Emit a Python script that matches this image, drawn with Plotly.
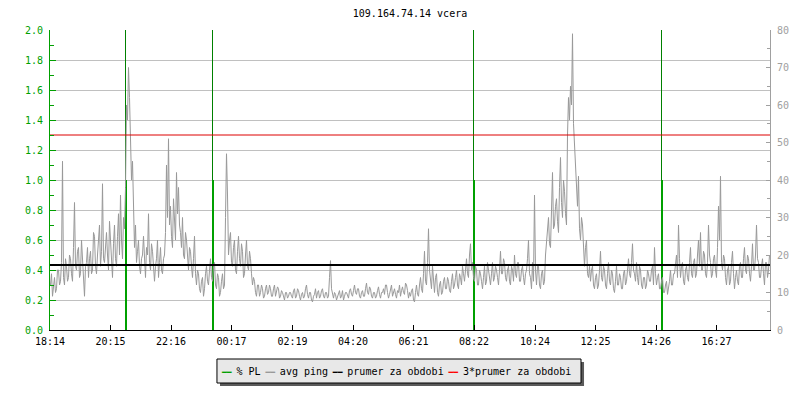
import plotly.graph_objects as go
import numpy as np

# ---------------- data ----------------
title_text = "109.164.74.14 vcera"
start_clock = "18:14"
sample_step_min = 2          # one reading every 2 minutes over 24 h

x_tick_labels = ["18:14", "20:15", "22:16", "00:17", "02:19", "04:20",
                 "06:21", "08:22", "10:24", "12:25", "14:26", "16:27"]

# avg ping [ms] (right axis), 18:14 -> 18:14 next day
avg_ping = [
    # 18:14 - 22:14
    12, 15, 9, 13, 14, 10, 11, 16, 16, 12, 13, 18, 45, 14, 12, 19, 17, 13, 14, 20,
    19, 15, 13, 22, 34, 17, 16, 21, 22, 14, 15, 24, 20, 16, 9, 17, 18, 22, 14, 19,
    21, 15, 16, 26, 25, 17, 15, 20, 23, 28, 17, 21, 39, 19, 18, 24, 26, 20, 16, 29,
    24, 18, 14, 23, 28, 19, 17, 25, 31, 20, 36, 24, 19, 30, 27, 38, 60, 56, 70, 62,
    49, 40, 45, 33, 22, 28, 18, 21, 24, 17, 15, 19, 20, 25, 17, 14, 22, 20, 31, 18,
    16, 23, 21, 15, 13, 17, 19, 24, 14, 18, 22, 16, 15, 19, 20, 26, 44, 30, 51, 28,
    # 22:14 - 02:14
    33, 25, 22, 35, 30, 24, 42, 31, 38, 28, 26, 22, 30, 20, 19, 26, 24, 18, 16, 22,
    21, 17, 14, 19, 25, 15, 12, 16, 15, 11, 10, 13, 14, 9, 11, 15, 17, 13, 12, 16,
    19, 14, 13, 17, 18, 12, 11, 15, 14, 9, 10, 13, 15, 11, 12, 30, 47, 36, 20, 24,
    26, 18, 17, 22, 24, 16, 15, 21, 25, 19, 17, 23, 21, 14, 15, 20, 24, 17, 16, 21,
    19, 15, 12, 14, 13, 10, 9, 12, 12, 9, 10, 12, 11, 8.5, 9, 11, 12, 9.5, 10, 12,
    11, 9, 9, 11, 12, 9, 10, 11.5, 11, 8.5, 9, 10.5, 10, 8.5, 8, 10, 10, 8.5, 9, 10,
    # 02:14 - 06:14
    10, 9, 8.5, 10.5, 11, 8.5, 9, 11, 10.5, 9, 8, 9.5, 10, 8.5, 9, 11, 12, 9.5, 8.5, 10,
    10, 8, 7.5, 9, 9.5, 11, 8.5, 10, 10.5, 8.5, 9, 10.5, 11, 9, 8.5, 10, 10, 8.5, 9, 14,
    18.5, 11, 9, 8.5, 10, 9.5, 8, 9, 9.5, 10.5, 8.5, 9, 10.5, 8, 9, 10, 10, 9, 8.5, 10.5,
    11, 9.5, 9, 10.5, 12, 10, 9.5, 11, 11, 9, 8.5, 10, 10.5, 9, 9, 11, 12.5, 10, 9.5, 11.5,
    11, 9, 8.5, 10, 10, 8.5, 9, 10.5, 11.5, 9.5, 8.5, 10, 10, 11, 9.5, 12, 12, 10, 8.5, 9.5,
    10.5, 12, 9, 10, 11, 9.5, 8.5, 10.5, 10, 12, 9, 10.5, 11.5, 10, 9.5, 12.5, 12, 10.5, 8.5, 10,
    # 06:14 - 10:14
    9, 10.5, 11, 8, 7.5, 10, 12, 9.5, 9, 12, 14, 11, 10, 15, 21, 13, 12, 18, 27, 16,
    13, 11, 17, 12, 10, 14, 15, 10, 9, 12, 13, 9.5, 10, 13, 14, 11, 11, 14, 13, 10.5,
    10, 13, 15, 11, 12, 14, 16, 12, 11, 15, 14, 12, 17, 15, 13, 16, 19, 15, 14, 20,
    23, 16, 18, 14, 13, 17, 16, 12, 12, 16, 15, 13, 11, 14, 17, 12, 13, 18, 16, 13,
    12, 15, 18, 13, 14, 17, 16, 14, 12, 16, 21, 15, 15, 19, 18, 14, 13, 16, 17, 13,
    12, 17, 16, 13, 20, 15, 14, 18, 18, 13, 13, 16, 17, 14, 12, 15, 16, 19, 24, 15,
    # 10:14 - 14:14
    14, 11, 18, 13, 36, 16, 12, 17, 17, 12, 11, 15, 16, 12, 13, 20, 24, 28, 30, 23,
    22, 32, 42, 27, 28, 33, 35, 29, 26, 38, 46, 34, 30, 40, 37, 31, 28, 52, 62, 56,
    65, 60, 79, 55, 50, 45, 38, 33, 41, 27, 24, 30, 28, 20, 17, 22, 24, 15, 14, 17,
    13, 16, 17, 12, 11, 14, 15, 11, 12, 16, 21, 14, 13, 17, 16, 12, 11, 15, 18, 13,
    12, 16, 15, 11, 10, 13, 17, 12, 12, 15, 14, 11, 11, 15, 16, 12, 13, 16, 19, 15,
    14, 18, 23, 16, 15, 13, 18, 14, 12, 17, 16, 12, 11, 14, 14, 11, 12, 16, 15, 13,
    # 14:14 - 18:14
    13, 16, 17, 12, 22, 15, 12, 14, 15, 11, 11, 13, 14, 10, 10, 12, 13, 9.5, 11, 13,
    16, 12, 12, 15, 15, 17, 20, 14, 28, 19, 14, 17, 18, 13, 12, 16, 17, 14, 13, 18,
    22, 15, 14, 18, 19, 14, 15, 20, 24, 17, 26, 16, 16, 21, 20, 15, 14, 18, 28, 20,
    18, 14, 15, 19, 20, 16, 14, 22, 33, 24, 41, 18, 16, 20, 19, 14, 12, 16, 17, 12,
    13, 18, 21, 15, 11, 14, 16, 13, 12, 17, 18, 14, 14, 19, 22, 16, 15, 20, 19, 15,
    13, 17, 23, 16, 16, 20, 28, 19, 18, 14, 14, 17, 19, 15, 12, 18, 18, 14, 16, 20,
]

# packet loss events [%] (left axis)
pl_clock = ["20:46", "23:40", "08:22", "14:38"]
pl_value = [1.0, 1.0, 1.0, 1.0]

avg_period = 17.33           # "prumer za obdobi"  [ms]
avg_period_x3 = 52.0         # "3*prumer za obdobi" [ms]

legend_names = ["% PL", "avg ping", "prumer za obdobi", "3*prumer za obdobi"]

# ---------------- helpers ----------------
def minutes_since_start(clock):
    h, m = map(int, clock.split(":"))
    sh, sm = map(int, start_clock.split(":"))
    return ((h * 60 + m) - (sh * 60 + sm)) % 1440

span = 1440
# each reading is drawn at the centre of its 2-minute slot
t_ping = (np.arange(len(avg_ping)) + 0.5) * sample_step_min
tickvals = [minutes_since_start(c) for c in x_tick_labels]
pl_t = [minutes_since_start(c) for c in pl_clock]

FONT = "DejaVu Sans Mono"
GREEN = "#00a000"
GREEN_D = "#008000"
GRAY = "#999999"
AXGRAY = "#a0a0a0"
RED = "#dd0000"
LEFT_MAX = 2.0
RIGHT_MAX = 80

fig = go.Figure()

fig.add_trace(go.Scatter(x=t_ping, y=avg_ping, mode="lines", yaxis="y2",
                         line=dict(color=GRAY, width=1), name=legend_names[1],
                         hoverinfo="skip"))
fig.add_trace(go.Scatter(x=[0, span], y=[avg_period, avg_period], mode="lines",
                         yaxis="y2", line=dict(color="black", width=2),
                         name=legend_names[2]))
fig.add_trace(go.Scatter(x=[0, span], y=[avg_period_x3, avg_period_x3],
                         mode="lines", yaxis="y2", line=dict(color=RED, width=1),
                         name=legend_names[3]))

# thin markers across the whole plot where loss happened (slot centre)
xs, ys = [], []
for t in pl_t:
    tc = t - sample_step_min / 2
    xs += [tc, tc, None]
    ys += [0, LEFT_MAX, None]
fig.add_trace(go.Scatter(x=xs, y=ys, mode="lines", yaxis="y",
                         line=dict(color=GREEN_D, width=1), hoverinfo="skip"))
# the loss value bars
xs, ys = [], []
for t, v in zip(pl_t, pl_value):
    xs += [t, t, None]
    ys += [0, v, None]
fig.add_trace(go.Scatter(x=xs, y=ys, mode="lines", yaxis="y",
                         line=dict(color=GREEN, width=2), name=legend_names[0]))

tickfont = dict(family=FONT, size=10)

# the page body has an 8px margin: size the figure so the plot area
# lands at x 50..770, y 30..330 of the window
fig.update_layout(
    width=792, height=392,
    margin=dict(l=42, r=30, t=22, b=70),
    paper_bgcolor="white", plot_bgcolor="white",
    showlegend=False,
    title=dict(text=title_text, x=0.5, xref="paper", xanchor="center",
               y=1 - 5 / 392, yref="container", yanchor="middle",
               font=dict(family=FONT, size=10, color="black")),
    xaxis=dict(range=[0, span], tickvals=tickvals, ticktext=x_tick_labels,
               showgrid=False, zeroline=False, showline=True,
               linecolor="black", linewidth=1, ticks="inside", ticklen=5,
               tickcolor="black", tickfont=dict(color="black", **tickfont),
               ticklabelstandoff=2),
    yaxis=dict(range=[0, LEFT_MAX], dtick=0.2, tick0=0, tickformat=".1f",
               showgrid=True, gridcolor="#c0c0c0", gridwidth=1,
               zeroline=False, showline=True, linecolor=GREEN, linewidth=1,
               ticks="inside", ticklen=6, tickcolor=GREEN,
               tickfont=dict(color=GREEN, **tickfont), ticklabelstandoff=4,
               minor=dict(dtick=0.1, ticks="inside", ticklen=4,
                          tickcolor=GREEN, showgrid=False)),
    yaxis2=dict(range=[0, RIGHT_MAX], dtick=10, tick0=0, overlaying="y",
                side="right", showgrid=False, zeroline=False, showline=True,
                linecolor=AXGRAY, linewidth=1, ticks="inside", ticklen=4,
                tickcolor=AXGRAY, tickfont=dict(color=AXGRAY, **tickfont),
                ticklabelstandoff=4,
                minor=dict(dtick=5, ticks="inside", ticklen=3,
                           tickcolor=AXGRAY, showgrid=False)),
)

# legend: box with a drop shadow + one line of text with coloured swatches
SHADOW = "#5a5a5a"
fig.add_shape(type="rect", xref="paper", yref="paper",
              x0=0.2361, x1=0.7417, y0=-0.1867, y1=-0.1067,
              fillcolor=SHADOW, line=dict(width=0), layer="above")
fig.add_shape(type="rect", xref="paper", yref="paper",
              x0=0.2319, x1=0.7375, y0=-0.1767, y1=-0.0967,
              fillcolor="#e8e8e8", line=dict(color="black", width=1),
              layer="above")
legend_colors = [GREEN, GRAY, "black", "#ff0000"]
small = "<span style='font-size:8px'>{}</span>"
parts = []
for n, c in zip(legend_names, legend_colors):
    parts.append(f"<span style='font-size:8px;color:{c}'>━━</span>"
                 + small.format(" ") + n)
legend_text = small.format(" ").join(parts)
fig.add_annotation(text=legend_text, xref="paper", yref="paper",
                   x=0.4799, y=-0.1367, xanchor="center", yanchor="middle",
                   showarrow=False,
                   font=dict(family=FONT, size=10, color="black"))

fig.write_html("out.html")
